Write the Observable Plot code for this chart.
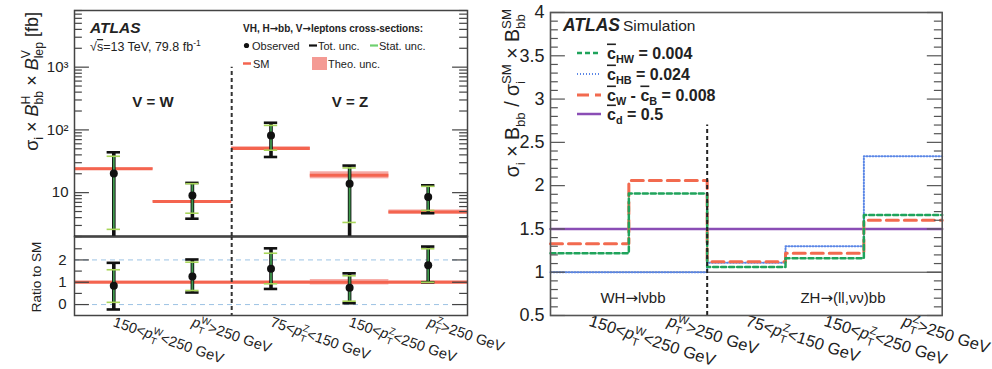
<!DOCTYPE html>
<html><head><meta charset="utf-8">
<script src="https://cdn.jsdelivr.net/npm/d3@7"></script>
<script src="https://cdn.jsdelivr.net/npm/@observablehq/plot@0.6"></script>
<style>
body{margin:0;background:#fff;}
#wrap{position:relative;width:992px;height:369px;overflow:hidden;background:#fff;}
#wrap svg{position:absolute;overflow:visible;}
</style></head><body><div id="wrap"></div>
<script>
// ---------- data ----------
const binLabels = ["150<p_T^W<250 GeV", "p_T^W>250 GeV", "75<p_T^Z<150 GeV", "150<p_T^Z<250 GeV", "p_T^Z>250 GeV"];
// upper panel: cross-sections [fb]
const observed = [20.1, 9.0, 81.7, 13.9, 8.5];
const totUp    = [44, 14.3, 130, 27, 13.1];
const totDown  = [1, 3.84, 37, 1, 4.7];
const statUp   = [38, 13.9, 118, 24.8, 12.6];
const statDown = [2.6, 4.7, 47.5, 3.35, 5.2];
const smValue  = [24, 7.2, 50.6, 18.9, 4.9];
const theoDown = [23.2, 6.95, 47.5, 16.6, 4.55];
const theoUp   = [24.8, 7.45, 54, 21.5, 5.3];
const logTicks = [10, 100, 1000];
const logTickLabels = ["10", "10²", "10³"];
// lower panel: ratio to SM
const ratioObs      = [0.84, 1.26, 1.60, 0.75, 1.76];
const ratioTotUp    = [1.87, 2.02, 2.52, 1.40, 2.60];
const ratioTotDown  = [-0.22, 0.54, 0.70, 0.06, 1.00];
const ratioStatUp   = [1.56, 1.90, 2.30, 1.29, 2.50];
const ratioStatDown = [0.10, 0.63, 0.93, 0.15, 1.00];
const ratioTheoDown = [0.95, 0.95, 0.94, 0.88, 0.94];
const ratioTheoUp   = [1.05, 1.05, 1.06, 1.12, 1.06];
const ratioTicks = [0, 1, 2];
const ratioGuides = [0, 2];
// right panel: EFT predictions
const cHW = [1.22, 1.91, 1.06, 1.16, 1.66];
const cHB = [1.00, 1.00, 1.11, 1.30, 2.34];
const cWB = [1.33, 2.06, 1.12, 1.22, 1.60];
const cd  = [1.50, 1.50, 1.50, 1.50, 1.50];
const rightTicks = [0.5, 1, 1.5, 2, 2.5, 3, 3.5, 4];
const rightTickLabels = ["0.5", "1", "1.5", "2", "2.5", "3", "3.5", "4"];

// ---------- helpers ----------
const font = "'Liberation Sans', Arial, Helvetica, sans-serif";
const nb = binLabels.length;
const rows = d3.range(nb).map(i => ({
  x0: i, x1: i + 1, xc: i + 0.5,
  obs: observed[i], tu: totUp[i], td: totDown[i], su: statUp[i], sd: statDown[i],
  sm: smValue[i], thd: theoDown[i], thu: theoUp[i],
  r: ratioObs[i], rtu: ratioTotUp[i], rtd: ratioTotDown[i], rsu: ratioStatUp[i], rsd: ratioStatDown[i],
  rthd: ratioTheoDown[i], rthu: ratioTheoUp[i]
}));
const capW = 0.085;
const logMinor = [];
for (const dec of [1, 10, 100, 1000]) for (let m = 2; m <= 9; m++) { const v = m * dec; if (v >= 2 && v <= 8000 && !logTicks.includes(v)) logMinor.push(v); }

function insideTicks(major, minor, xmax, lenMaj, lenMin, stroke) {
  const o = {stroke, strokeWidth: 1.2};
  return [
    Plot.ruleY(major, {y: d => d, x1: 0, x2: lenMaj, ...o}),
    Plot.ruleY(major, {y: d => d, x1: xmax - lenMaj, x2: xmax, ...o}),
    Plot.ruleY(minor, {y: d => d, x1: 0, x2: lenMin, ...o}),
    Plot.ruleY(minor, {y: d => d, x1: xmax - lenMin, x2: xmax, ...o})
  ];
}
function errorMarks(yu, yd, su, sd, yo) {
  return [
    Plot.ruleX(rows, {x: "xc", y1: yd, y2: yu, stroke: "#111", strokeWidth: 3.6, clip: true}),
    Plot.ruleX(rows, {x: "xc", y1: sd, y2: su, stroke: "#3f9a4d", strokeWidth: 1.8, clip: true}),
    Plot.ruleY(rows, {y: yu, x1: d => d.xc - capW, x2: d => d.xc + capW, stroke: "#111", strokeWidth: 2.6, clip: true}),
    Plot.ruleY(rows, {y: yd, x1: d => d.xc - capW, x2: d => d.xc + capW, stroke: "#111", strokeWidth: 2.6, clip: true}),
    Plot.ruleY(rows, {y: su, x1: d => d.xc - capW, x2: d => d.xc + capW, stroke: "#a9d65a", strokeWidth: 1.6, clip: true}),
    Plot.ruleY(rows, {y: sd, x1: d => d.xc - capW, x2: d => d.xc + capW, stroke: "#a9d65a", strokeWidth: 1.6, clip: true}),
    Plot.dot(rows, {x: "xc", y: yo, r: 4, fill: "#111", stroke: "none"})
  ];
}

function rich(textSel, parts, fs) {
  let pdx = 0, pdy = 0;
  const add = (str, attrs = {}) => {
    const t = textSel.append("tspan").text(str);
    for (const k in attrs) t.attr(k, attrs[k]);
    if (pdx) t.attr("dx", (parseFloat(t.attr("dx")) || 0) + pdx);
    if (pdy) t.attr("dy", (parseFloat(t.attr("dy")) || 0) + pdy);
    pdx = 0; pdy = 0;
    return t;
  };
  const s = fs * 0.68;
  for (const p of parts) {
    if (typeof p === "string") { add(p); continue; }
    if (p.it) { add(p.it, {"font-style": "italic"}); continue; }
    if (p.ol) { add(p.ol, {style: "text-decoration: overline"}); continue; }
    if (p.arrow) { add("→", {"font-family": "'DejaVu Sans', sans-serif"}); continue; }
    if (p.sub && p.sup) {
      const a = add(p.sub, {"font-size": s, dy: fs * 0.3});
      const wa = a.node().getComputedTextLength();
      const b = add(p.sup, {"font-size": s, dx: -wa, dy: -fs * 0.72});
      const wb = b.node().getComputedTextLength();
      pdx = Math.max(0, wa - wb); pdy = fs * 0.42;
    } else if (p.sub) {
      add(p.sub, {"font-size": s, dy: fs * 0.3}); pdy = -fs * 0.3;
    } else if (p.sup) {
      add(p.sup, {"font-size": s, dy: -fs * 0.42}); pdy = fs * 0.42;
    }
  }
}
function arrowParts(str) {
  const out = [];
  str.split("→").forEach((s, i) => { if (i) out.push({arrow: true}); if (s) out.push(s); });
  return out;
}
function binParts(label) {
  const m = label.match(/^(.*)p_(\w)\^(\w)(.*)$/);
  return m ? [m[1], {it: "p"}, {sub: m[2], sup: m[3]}, m[4]] : [label];
}
function richTicks(svg, fs) {
  d3.select(svg).selectAll('g[aria-label="x-axis tick label"] text').each(function () {
    const sel = d3.select(this);
    const label = sel.text();
    sel.text(null);
    rich(sel, binParts(label), fs);
  });
}

const wrap = document.getElementById("wrap");

// ---------- upper left ----------
const p1 = Plot.plot({
  width: 500, height: 236, marginLeft: 74, marginRight: 33, marginTop: 10, marginBottom: 0,
  style: {fontFamily: font, fontSize: "15px", color: "#222", background: "transparent", overflow: "visible"},
  x: {domain: [0, nb], axis: null, label: null},
  y: {type: "log", domain: [2, 8000], axis: null, label: null},
  marks: [
    Plot.rect(rows, {x1: "x0", x2: "x1", y1: "thd", y2: "thu", fill: "#f49a94", fillOpacity: 0.85}),
    Plot.ruleY(rows, {x1: "x0", x2: "x1", y: "sm", stroke: "#f4644f", strokeWidth: 3}),
    Plot.ruleX([2], {y1: 2, y2: 1000, stroke: "#333", strokeWidth: 2, strokeDasharray: "4,3"}),
    ...errorMarks("tu", "td", "su", "sd", "obs"),
    ...insideTicks(logTicks, logMinor, nb, 0.19, 0.1, "#444"),
    Plot.axisY(logTicks, {anchor: "left", tickSize: 0, tickPadding: 6, fontSize: 15, tickFormat: d => logTickLabels[logTicks.indexOf(d)]}),
    Plot.frame({stroke: "#444", strokeWidth: 1.5})
  ]
});
p1.style.left = "0px"; p1.style.top = "0px";
wrap.appendChild(p1);

// ---------- lower left (ratio) ----------
const p2 = Plot.plot({
  width: 500, height: 133, marginLeft: 74, marginRight: 33, marginTop: 0, marginBottom: 54,
  style: {fontFamily: font, fontSize: "14px", color: "#222", background: "transparent", overflow: "visible"},
  x: {domain: [0, nb], axis: null, label: null},
  y: {domain: [-0.49, 3.05], axis: null, label: null},
  marks: [
    Plot.ruleY(ratioGuides, {stroke: "#9cc3e4", strokeWidth: 1, strokeDasharray: "5,4"}),
    Plot.rect(rows, {x1: "x0", x2: "x1", y1: "rthd", y2: "rthu", fill: "#f49a94", fillOpacity: 0.85}),
    Plot.ruleY([1], {stroke: "#f4644f", strokeWidth: 3}),
    Plot.ruleX([2], {stroke: "#333", strokeWidth: 2, strokeDasharray: "4,3"}),
    ...errorMarks("rtu", "rtd", "rsu", "rsd", "r"),
    ...insideTicks(ratioTicks, [0.5, 1.5, 2.5], nb, 0.19, 0.1, "#444"),
    Plot.axisY(ratioTicks, {anchor: "left", tickSize: 0, tickPadding: 8, fontSize: 15, tickFormat: d => String(d)}),
    Plot.axisX(rows.map(d => d.xc), {anchor: "bottom", tickSize: 0, tickPadding: 6, tickRotate: 19, textAnchor: "start", fontSize: 14.5, tickFormat: d => binLabels[Math.floor(d)]}),
    Plot.ruleY([3.05], {stroke: "#111", strokeWidth: 2}),
    Plot.frame({stroke: "#444", strokeWidth: 1.5})
  ]
});
p2.style.left = "0px"; p2.style.top = "236px";
wrap.appendChild(p2);
richTicks(p2, 14.5);

// ---------- right panel ----------
function stepData(vals) {
  return vals.map((v, i) => ({x: i, y: v})).concat([{x: vals.length, y: vals[vals.length - 1]}]);
}
const rightMinor = d3.range(0.6, 4.0, 0.1).map(v => Math.round(v * 10) / 10).filter(v => !rightTicks.includes(v));
const p3 = Plot.plot({
  width: 492, height: 369, marginLeft: 50, marginRight: 50.3, marginTop: 12, marginBottom: 54,
  style: {fontFamily: font, fontSize: "16px", color: "#222", background: "transparent", overflow: "visible"},
  x: {domain: [0, nb], axis: null, label: null},
  y: {domain: [0.5, 4], axis: null, label: null},
  marks: [
    Plot.ruleY([1], {stroke: "#333", strokeWidth: 1}),
    Plot.line(stepData(cd), {x: "x", y: "y", curve: "step-after", stroke: "#8a4db5", strokeWidth: 2.5}),
    Plot.line(stepData(cHB), {x: "x", y: "y", curve: "step-after", stroke: "#5a86e6", strokeWidth: 2, strokeDasharray: "1,2"}),
    Plot.line(stepData(cWB), {x: "x", y: "y", curve: "step-after", stroke: "#f26a4f", strokeWidth: 3, strokeDasharray: "12,6"}),
    Plot.line(stepData(cHW), {x: "x", y: "y", curve: "step-after", stroke: "#1fa35b", strokeWidth: 2.5, strokeDasharray: "5,3"}),
    Plot.ruleX([2], {y1: 0.5, y2: 2.7, stroke: "#222", strokeWidth: 2, strokeDasharray: "4,3"}),
    ...insideTicks(rightTicks, rightMinor, nb, 0.19, 0.1, "#555"),
    Plot.axisY(rightTicks, {anchor: "left", tickSize: 0, tickPadding: 6, fontSize: 18, tickFormat: d => rightTickLabels[rightTicks.indexOf(d)]}),
    Plot.axisX(rows.map(d => d.xc), {anchor: "bottom", tickSize: 0, tickPadding: 5, tickRotate: 18, textAnchor: "start", fontSize: 16.5, tickFormat: d => binLabels[Math.floor(d)]}),
    Plot.frame({stroke: "#555", strokeWidth: 1.6})
  ]
});
p3.style.left = "500px"; p3.style.top = "0px";
wrap.appendChild(p3);
richTicks(p3, 16.5);

// ---------- overlay texts & legends ----------
const ov = d3.select(wrap).append("svg").attr("width", 992).attr("height", 369)
  .style("left", "0px").style("top", "0px").attr("font-family", font).attr("fill", "#222");

// left y label
rich(ov.append("text").attr("transform", "translate(38,12) rotate(-90)").attr("text-anchor", "end").attr("font-size", 18),
  ["σ", {sub: "i"}, " × ", {it: "B"}, {sub: "bb", sup: "H"}, " × ", {it: "B"}, {sub: "lep", sup: "V"}, " [fb]"], 18);
ov.append("text").attr("transform", "translate(41,277) rotate(-90)").attr("text-anchor", "middle").attr("font-size", 13.5).text("Ratio to SM");
// right y label
rich(ov.append("text").attr("transform", "translate(519,9) rotate(-90)").attr("text-anchor", "end").attr("font-size", 19.5),
  ["σ", {sub: "i"}, " × B", {sub: "bb"}, " / σ", {sub: "i", sup: "SM"}, " × B", {sub: "bb", sup: "SM"}], 19.5);

// left annotations
ov.append("text").attr("x", 90).attr("y", 33).attr("font-size", 15.5).attr("font-weight", "bold").attr("font-style", "italic").text("ATLAS");
rich(ov.append("text").attr("x", 90).attr("y", 51).attr("font-size", 12.5), ["√", {ol: "s"}, "=13 TeV, 79.8 fb", {sup: "-1"}], 12.5);
ov.append("text").attr("x", 153).attr("y", 107).attr("font-size", 15).attr("font-weight", "bold").attr("text-anchor", "middle").text("V = W");
ov.append("text").attr("x", 350).attr("y", 107).attr("font-size", 15).attr("font-weight", "bold").attr("text-anchor", "middle").text("V = Z");

// left legend
rich(ov.append("text").attr("x", 243).attr("y", 32).attr("font-size", 10).attr("font-weight", "bold"), arrowParts("VH, H→bb, V→leptons cross-sections:"), 10);
ov.append("circle").attr("cx", 246.5).attr("cy", 45.5).attr("r", 2.6).attr("fill", "#111");
ov.append("text").attr("x", 252).attr("y", 49.5).attr("font-size", 11).text("Observed");
ov.append("line").attr("x1", 309).attr("x2", 317).attr("y1", 45.5).attr("y2", 45.5).attr("stroke", "#111").attr("stroke-width", 2.2);
ov.append("text").attr("x", 318).attr("y", 49.5).attr("font-size", 11).text("Tot. unc.");
ov.append("line").attr("x1", 370).attr("x2", 378).attr("y1", 45.5).attr("y2", 45.5).attr("stroke", "#6fd06f").attr("stroke-width", 2.2);
ov.append("text").attr("x", 379).attr("y", 49.5).attr("font-size", 11).text("Stat. unc.");
ov.append("line").attr("x1", 243).attr("x2", 251).attr("y1", 63.5).attr("y2", 63.5).attr("stroke", "#f4644f").attr("stroke-width", 2.5);
ov.append("text").attr("x", 253).attr("y", 67.5).attr("font-size", 11).text("SM");
ov.append("rect").attr("x", 312).attr("y", 57).attr("width", 15).attr("height", 13).attr("fill", "#f49a94");
ov.append("text").attr("x", 328).attr("y", 67.5).attr("font-size", 11).text("Theo. unc.");

// right annotations
const atl = ov.append("text").attr("x", 563).attr("y", 31).attr("font-size", 17.5);
atl.append("tspan").attr("font-weight", "bold").attr("font-style", "italic").text("ATLAS");
atl.append("tspan").attr("font-size", 15.5).attr("dx", 3).text("Simulation");

const legR = [
  {y: 53, stroke: "#1fa35b", dash: "5,3", w: 2.5, parts: [{ol: "c"}, {sub: "HW"}, " = 0.004"]},
  {y: 74, stroke: "#5a86e6", dash: "1,2", w: 2, parts: [{ol: "c"}, {sub: "HB"}, " = 0.024"]},
  {y: 95, stroke: "#f26a4f", dash: "12,6", w: 3, parts: [{ol: "c"}, {sub: "W"}, " - ", {ol: "c"}, {sub: "B"}, " = 0.008"]},
  {y: 114, stroke: "#8a4db5", dash: null, w: 2.5, parts: [{ol: "c"}, {sub: "d"}, " = 0.5"]}
];
for (const e of legR) {
  const ln = ov.append("line").attr("x1", 577).attr("x2", 601).attr("y1", e.y).attr("y2", e.y).attr("stroke", e.stroke).attr("stroke-width", e.w);
  if (e.dash) ln.attr("stroke-dasharray", e.dash);
  rich(ov.append("text").attr("x", 607).attr("y", e.y + 5.5).attr("font-size", 16).attr("font-weight", "bold"), e.parts, 16);
}
rich(ov.append("text").attr("x", 633).attr("y", 303).attr("font-size", 15).attr("text-anchor", "middle"), arrowParts("WH→lνbb"), 15);
rich(ov.append("text").attr("x", 843).attr("y", 303).attr("font-size", 15).attr("text-anchor", "middle"), arrowParts("ZH→(ll,νν)bb"), 15);
</script>
</body></html>
